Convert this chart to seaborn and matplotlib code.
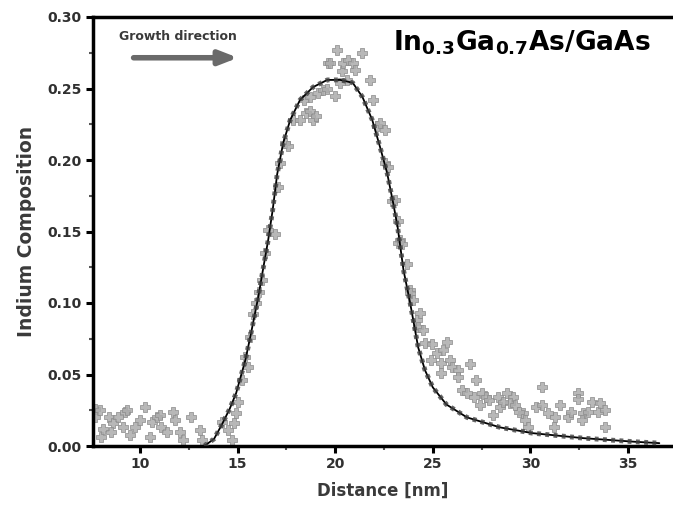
import matplotlib
matplotlib.use("Agg")
import matplotlib.pyplot as plt
import seaborn as sns
import pandas as pd
from matplotlib.ticker import MultipleLocator

# ---- data ----
fit_distance = [13.3, 13.8, 14.2, 14.6, 14.93, 15.4, 15.65, 16.06, 16.3, 16.57, 16.8, 17.03,
                17.34, 17.7, 18.2, 18.87, 19.6, 20.26, 20.9, 21.4, 21.9, 22.3, 22.66, 22.97,
                23.2, 23.5, 23.84, 24.0, 24.25, 24.6, 25.0, 25.7, 26.75, 28.45, 30.1, 32.7,
                35.3, 36.6]
fit_composition = [0.0, 0.005, 0.015, 0.026, 0.037, 0.060, 0.076, 0.104, 0.123, 0.144, 0.165,
                   0.190, 0.212, 0.228, 0.242, 0.251, 0.256, 0.256, 0.254, 0.244, 0.228, 0.209,
                   0.191, 0.170, 0.153, 0.123, 0.100, 0.088, 0.069, 0.053, 0.041, 0.029, 0.020,
                   0.013, 0.009, 0.0055, 0.003, 0.002]

meas_distance = [
    7.7, 7.7, 7.97, 8.0, 8.1, 8.4, 8.6, 8.9, 9.15, 9.25, 9.5, 9.76, 10.0, 10.27, 10.5, 10.6,
    10.9, 11.04, 11.1, 11.4, 11.7, 11.8, 12.06, 12.2, 12.6, 13.1, 13.2, 14.2, 14.5, 14.7, 14.8,
    9.35, 8.5,
    14.9, 15.05, 15.24, 15.55, 15.65, 15.8, 16.26, 16.4, 16.57, 16.9, 17.08, 17.2, 17.44, 17.6,
    17.85, 18.2, 18.5, 18.7, 18.87, 19.0, 18.4, 18.7, 19.1, 19.4, 19.6, 20.0, 15.4, 15.95, 16.1,
    19.65, 19.74, 20.1, 20.26, 20.36, 20.4, 20.6, 20.67, 20.9, 21.0, 21.4, 21.8, 21.95, 22.15,
    22.3, 22.56, 22.56, 22.7, 22.9, 23.07, 23.2, 23.33, 23.2, 23.4, 23.7, 23.84, 24.0, 24.2,
    23.84, 24.35, 24.25, 24.5, 24.6, 24.97, 25.2, 25.73, 25.5, 25.4, 24.9, 25.4, 25.9, 26.0,
    26.3, 26.9, 26.3, 27.2, 26.5, 26.75, 27.5, 27.7, 27.4, 27.9, 28.35, 28.45, 28.8, 29.1,
    28.96, 29.2, 28.1, 29.6, 29.7, 29.9, 30.3, 30.6, 30.6, 30.9, 31.26, 31.2, 31.5, 31.9, 32.1,
    32.45, 32.45, 32.7, 32.65, 32.95, 33.16, 33.47, 33.57, 33.8, 33.8, 29.4, 28.6, 27.1]
meas_composition = [
    0.026, 0.020, 0.025, 0.006, 0.012, 0.020, 0.016, 0.020, 0.013, 0.024, 0.008, 0.013, 0.018,
    0.027, 0.006, 0.017, 0.020, 0.022, 0.013, 0.010, 0.024, 0.018, 0.010, 0.004, 0.020, 0.011,
    0.004, 0.017, 0.011, 0.004, 0.016, 0.025, 0.010,
    0.023, 0.031, 0.046, 0.055, 0.076, 0.092, 0.116, 0.135, 0.151, 0.148, 0.181, 0.198, 0.212,
    0.210, 0.228, 0.228, 0.233, 0.234, 0.228, 0.231, 0.242, 0.244, 0.247, 0.249, 0.250, 0.245,
    0.062, 0.100, 0.108,
    0.268, 0.268, 0.277, 0.254, 0.262, 0.268, 0.256, 0.270, 0.268, 0.263, 0.275, 0.256, 0.242,
    0.224, 0.226, 0.221, 0.198, 0.195, 0.171, 0.172, 0.157, 0.144, 0.142, 0.141, 0.127, 0.109,
    0.102, 0.088,
    0.107, 0.093, 0.083, 0.081, 0.072, 0.071, 0.065, 0.073, 0.067, 0.058, 0.060, 0.051, 0.060,
    0.055, 0.053, 0.057, 0.048, 0.046, 0.039, 0.037, 0.037, 0.034, 0.029, 0.032, 0.034, 0.027,
    0.037, 0.034, 0.030, 0.029, 0.022, 0.023, 0.018, 0.013, 0.027, 0.029, 0.041, 0.023, 0.020,
    0.013, 0.029, 0.020, 0.024, 0.037, 0.033, 0.023, 0.018, 0.024, 0.031, 0.024, 0.030, 0.025,
    0.013, 0.024, 0.031, 0.034]

x_ticks = [10, 15, 20, 25, 30, 35]
y_ticks = [0.00, 0.05, 0.10, 0.15, 0.20, 0.25, 0.30]

sns.set_theme(style="white")
plt.rcParams["font.family"] = ["DejaVu Sans"]
plt.rcParams["mathtext.default"] = "bf"

fig = plt.figure(figsize=(6.73, 5.12), dpi=100)
ax = fig.add_axes([93 / 673, 1 - 446 / 512, (673 - 93) / 673, (446 - 17) / 512])

meas = pd.DataFrame({"d": meas_distance, "c": meas_composition})
fit = pd.DataFrame({"d": fit_distance, "c": fit_composition})

sns.scatterplot(data=meas, x="d", y="c", marker="P", s=48, color="#acacac",
                edgecolor="#8c8c8c", linewidth=0.6, alpha=0.85, ax=ax, zorder=2)
sns.lineplot(data=fit, x="d", y="c", color="black", linewidth=1.3, ax=ax, zorder=3,
             sort=False)
sns.lineplot(data=fit, x="d", y="c", color="#404040", linewidth=3.5, ax=ax, zorder=3,
             sort=False, linestyle=(0, (0.8, 0.9)), alpha=0.8)

ax.set_xlim(7.6, 37.3)
ax.set_ylim(0, 0.30)
ax.set_xticks(x_ticks)
ax.set_xticklabels([str(t) for t in x_ticks])
ax.set_yticks(y_ticks)
ax.set_yticklabels([f"{t:.2f}" for t in y_ticks])
ax.xaxis.set_minor_locator(MultipleLocator(2.5))
ax.yaxis.set_minor_locator(MultipleLocator(0.025))
ax.tick_params(axis="both", which="major", direction="out", length=5, width=2.2,
               color="black", labelsize=10, labelcolor="#303030", pad=3)
ax.tick_params(axis="both", which="minor", direction="out", length=3, width=1.5,
               color="#555555")
ax.tick_params(axis="x", which="both", bottom=True)
ax.tick_params(axis="y", which="both", left=True)
for lab in ax.get_xticklabels() + ax.get_yticklabels():
    lab.set_fontweight("bold")

for side in ["left", "bottom", "top"]:
    ax.spines[side].set_visible(True)
    ax.spines[side].set_color("black")
    ax.spines[side].set_linewidth(2.5)
ax.spines["right"].set_visible(False)

ax.set_xlabel("Distance [nm]", fontsize=12, fontweight="bold", color="#3a3a3a", labelpad=8)
ax.set_ylabel("Indium Composition", fontsize=13.5, fontweight="bold", color="#3a3a3a",
              labelpad=8)

ax.text(0.517, 0.923, "In$_{0.3}$Ga$_{0.7}$As/GaAs", transform=ax.transAxes,
        fontsize=19, fontweight="bold", color="black", ha="left", va="baseline")
ax.text(0.045, 0.955, "Growth direction", transform=ax.transAxes, fontsize=9,
        fontweight="bold", color="#3a3a3a", ha="left", va="center")
ax.annotate("", xy=(0.25, 0.905), xytext=(0.07, 0.905), xycoords="axes fraction",
            arrowprops=dict(arrowstyle="-|>,head_length=0.9,head_width=0.35",
                            lw=4, color="#6a6a6a", shrinkA=0, shrinkB=0))

fig.savefig("out.png", dpi=100)
